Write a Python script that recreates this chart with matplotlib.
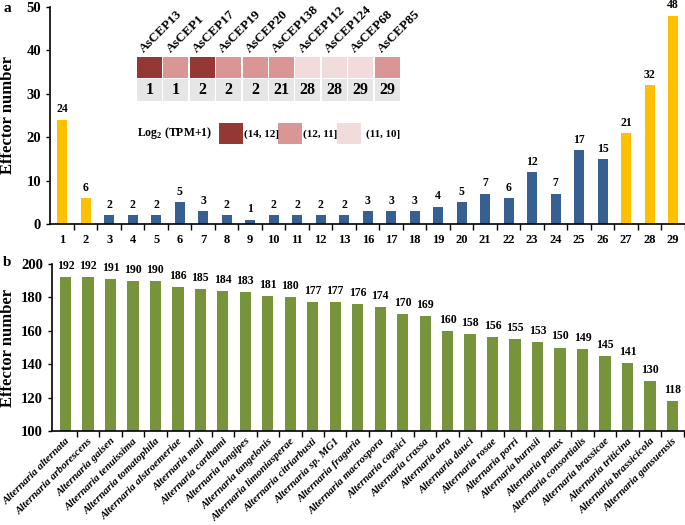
import matplotlib
matplotlib.use("Agg")
import matplotlib.pyplot as plt
from matplotlib.patches import Rectangle
from matplotlib.ticker import FixedLocator, NullFormatter

plt.rcParams['font.family'] = ['Liberation Serif', 'DejaVu Serif']
plt.rcParams['font.weight'] = 'bold'
plt.rcParams['mathtext.fontset'] = 'custom'
plt.rcParams['mathtext.rm'] = 'Liberation Serif:bold'
plt.rcParams['mathtext.bf'] = 'Liberation Serif:bold'

# Panel a data
clusters = ['1','2','3','4','5','6','7','8','9','10','11','12','13','16','17','18',
            '19','20','21','22','23','24','25','26','27','28','29']
effectors_a = [24,6,2,2,2,5,3,2,1,2,2,2,2,3,3,3,4,5,7,6,12,7,17,15,21,32,48]
highlight = ['1','2','27','28','29']

# Heatmap inset data
genes = ['AsCEP13','AsCEP1','AsCEP17','AsCEP19','AsCEP20','AsCEP138','AsCEP112',
         'AsCEP124','AsCEP68','AsCEP85']
gene_level = [0,1,0,1,1,1,2,2,2,1]
gene_cluster = ['1','1','2','2','2','21','28','28','29','29']
level_labels = ['(14, 12]', '(12, 11]', '(11, 10]']

# Panel b data
species = ['Alternaria alternata','Alternaria arborescens','Alternaria gaisen',
           'Alternaria tenuissima','Alternaria tomatophila','Alternaria alstroemeriae',
           'Alternaria mali','Alternaria carthami','Alternaria longipes',
           'Alternaria tangelonis','Alternaria limoniasperae','Alternaria citriarbusti',
           'Alternaria sp. MG1','Alternaria fragaria','Alternaria macrospora',
           'Alternaria capsici','Alternaria crassa','Alternaria atra','Alternaria dauci',
           'Alternaria rosae','Alternaria porri','Alternaria burnsii','Alternaria panax',
           'Alternaria consortialis','Alternaria brassicae','Alternaria triticina',
           'Alternaria brassicicola','Alternaria gansuensis']
effectors_b = [192,192,191,190,190,186,185,184,183,181,180,177,177,176,174,170,169,
               160,158,156,155,153,150,149,145,141,130,118]

YELLOW = '#FFC000'
BLUE = '#366092'
GREEN = '#77933C'
level_colors = ['#953735', '#D99694', '#F2DCDB']
GRAY = '#E6E6E6'

fig = plt.figure(figsize=(6.85, 5.25), dpi=100)
W, H = 685.0, 525.0
def fx(px): return px / W
def fy(py): return 1 - py / H

def style_axis(ax):
    for lab in ax.get_yticklabels():
        lab.set_fontweight('bold')
    ax.tick_params(axis='y', length=3, width=1, labelsize=10.5, direction='out')
    ax.tick_params(axis='x', which='major', length=0)
    ax.tick_params(axis='x', which='minor', length=4, width=1)
    ax.spines['top'].set_visible(False)
    ax.spines['right'].set_visible(False)
    ax.spines['left'].set_linewidth(1.2)
    ax.spines['bottom'].set_linewidth(1.2)

# ---------- Panel a ----------
axa = fig.add_axes([fx(50), fy(224), (685 - 50) / W, (224 - 7) / H])
xa = list(range(len(clusters)))
cols = [YELLOW if c in highlight else BLUE for c in clusters]
axa.bar(xa, effectors_a, width=0.42, color=cols, edgecolor='none')
for x, v in zip(xa, effectors_a):
    axa.text(x, v + 1.0, str(v), ha='center', va='bottom', fontsize=8.5, fontweight='bold')
axa.set_xlim(-0.52, len(clusters) - 0.5)
axa.set_ylim(0, 50)
axa.set_yticks([0, 10, 20, 30, 40, 50])
axa.set_xticks(xa)
axa.set_xticklabels(clusters, fontsize=9, fontweight='bold')
axa.xaxis.set_minor_locator(FixedLocator([i - 0.5 for i in range(1, len(clusters) + 1)]))
axa.xaxis.set_minor_formatter(NullFormatter())
axa.tick_params(axis='x', which='major', pad=7)
style_axis(axa)
axa.set_ylabel('Effector number', fontsize=12, fontweight='bold')
axa.yaxis.set_label_coords(fx(16), fy(115), transform=fig.transFigure)
fig.text(fx(3), fy(8), 'a', fontsize=11, fontweight='bold', va='center')

# heatmap inset
cell_w = (401 - 137) / len(genes)
for i, (g, lv, cl) in enumerate(zip(genes, gene_level, gene_cluster)):
    x0 = 137 + i * cell_w
    fig.patches.append(Rectangle((fx(x0), fy(78)), fx(cell_w - 1.5), (78 - 57) / H,
                                 transform=fig.transFigure, facecolor=level_colors[lv],
                                 edgecolor='none'))
    fig.patches.append(Rectangle((fx(x0), fy(101)), fx(cell_w - 1.5), (101 - 79.5) / H,
                                 transform=fig.transFigure, facecolor=GRAY,
                                 edgecolor='none'))
    fig.text(fx(x0 + cell_w / 2 - 0.75), fy(90), cl, ha='center', va='center',
             fontsize=11.5, fontweight='bold')
    fig.text(fx(x0 + cell_w / 2 - 4), fy(55), g, ha='left', va='bottom',
             rotation=45, rotation_mode='anchor', fontsize=9.5, fontweight='bold')

fig.text(fx(137), fy(133), r'Log$_{2}$ (TPM+1)', ha='left', va='center',
         fontsize=8.5, fontweight='bold')
leg_x = [219, 278, 337]
leg_tx = [244, 303, 366]
for i in range(3):
    fig.patches.append(Rectangle((fx(leg_x[i]), fy(144)), 24 / W, 21 / H,
                                 transform=fig.transFigure, facecolor=level_colors[i],
                                 edgecolor='none'))
    fig.text(fx(leg_tx[i]), fy(134), level_labels[i], ha='left', va='center',
             fontsize=8, fontweight='bold')

# ---------- Panel b ----------
axb = fig.add_axes([fx(52), fy(431), (685 - 52) / W, (431 - 264) / H])
xb = list(range(len(species)))
axb.bar(xb, effectors_b, width=0.5, color=GREEN, edgecolor='none')
for x, v in zip(xb, effectors_b):
    axb.text(x, v + 3, str(v), ha='center', va='bottom', fontsize=8.5, fontweight='bold')
axb.set_xlim(-0.6, len(species) - 0.44)
axb.set_ylim(100, 200)
axb.set_yticks([100, 120, 140, 160, 180, 200])
axb.set_xticks(xb)
axb.set_xticklabels(species, rotation=45, ha='right', rotation_mode='anchor',
                    fontsize=7.8, fontstyle='italic', fontweight='bold')
axb.tick_params(axis='x', which='major', pad=4)
axb.xaxis.set_minor_locator(FixedLocator([i - 0.5 for i in range(1, len(species) + 1)]))
axb.xaxis.set_minor_formatter(NullFormatter())
style_axis(axb)
axb.set_ylabel('Effector number', fontsize=12, fontweight='bold')
axb.yaxis.set_label_coords(fx(16), fy(348), transform=fig.transFigure)
fig.text(fx(3), fy(262), 'b', fontsize=11, fontweight='bold', va='center')

fig.savefig('out.png', dpi=100)
